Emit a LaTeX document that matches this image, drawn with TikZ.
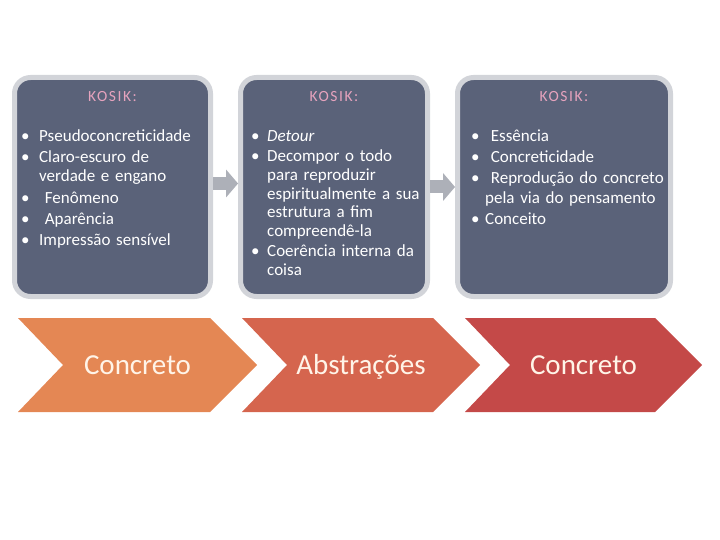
\documentclass[tikz,border=0pt]{standalone}
\usepackage{fontspec}
\setmainfont{Carlito}
\usetikzlibrary{arrows.meta}

\definecolor{slate}{RGB}{90,98,121}
\definecolor{rim}{RGB}{210,212,217}
\definecolor{arrowgray}{RGB}{173,176,184}
\definecolor{kpink}{RGB}{230,163,190}
\definecolor{cream}{RGB}{255,244,232}
\definecolor{chevA}{RGB}{228,135,84}
\definecolor{chevB}{RGB}{213,101,78}
\definecolor{chevC}{RGB}{196,73,72}

\newlength{\kind}
\newcommand{\kitem}[1]{\hangindent=\kind\hangafter=1\noindent\strut\makebox[\kind][l]{\textbullet}#1\par}

\begin{document}
\begin{tikzpicture}[x=1pt,y=-1pt,
  kbox/.style={draw=rim, fill=slate, line width=5pt, rounded corners=16pt, minimum height=219pt},
  kosik/.style={anchor=base, text=kpink, font={\fontsize{15.5}{18}\selectfont\addfontfeature{LetterSpace=10}}},
  klist/.style={anchor=north west, inner sep=0pt, text=white, text width=200pt,
    font=\fontsize{17}{19.3}\selectfont,
    execute at begin node={\setlength{\kind}{#1}\setlength{\parskip}{2pt}}},
  flow/.style={line width=13pt, draw=arrowgray, -{Triangle[length=12pt,width=28pt,line width=0pt]}},
  chev/.style={anchor=base, text=cream, font=\fontsize{29}{34}\selectfont}]
\useasboundingbox (0,0) rectangle (720,540);
% the three KOSIK boxes
\node[kbox, minimum width=196pt] (b1) at (112.5,187) {};
\node[kbox, minimum width=187pt] (b2) at (334,187) {};
\node[kbox, minimum width=213pt] (b3) at (564,187) {};
\node[kosik] (k1) at (112.5,102) {KOSIK:};
\node[kosik] (k2) at (334,102) {KOSIK:};
\node[kosik] (k3) at (564,102) {KOSIK:};
\node[klist=18pt] (t1) at (21,127.5) {%
  \kitem{Pseudoconcreticidade}
  \kitem{Claro-escuro de\newline verdade e engano}
  \kitem{\ Fenômeno}
  \kitem{\ Aparência}
  \kitem{Impressão sensível}};
\node[klist=16pt, font=\fontsize{17}{18.6}\selectfont] (t2) at (251,128) {%
  \kitem{\textit{Detour}}
  \kitem{Decompor o todo\newline para reproduzir\newline espiritualmente a sua\newline estrutura a fim\newline compreendê-la}
  \kitem{Coerência interna da\newline coisa}};
\node[klist=14pt] (t3) at (471,127.5) {%
  \kitem{\ Essência}
  \kitem{\ Concreticidade}
  \kitem{\ Reprodução do concreto\newline pela via do pensamento}
  \kitem{Conceito}};
\draw[flow] ([yshift=3.5pt]b1.east) -- ([yshift=3.5pt]b2.west);
\draw[flow] (b2.east) -- (b3.west);
% chevrons
\fill[chevA] (18,318) -- (210,318) -- (257,365) -- (210,412) -- (18,412) -- (63,365) -- cycle;
\fill[chevB] (242,318) -- (433,318) -- (480,365) -- (433,412) -- (242,412) -- (287,365) -- cycle;
\fill[chevC] (465,318) -- (655,318) -- (702,365) -- (655,412) -- (465,412) -- (510,365) -- cycle;
\node[chev] (c1) at (137.5,374) {Concreto};
\node[chev] (c2) at (361,374) {Abstrações};
\node[chev] (c3) at (583.5,374) {Concreto};
\end{tikzpicture}
\end{document}
